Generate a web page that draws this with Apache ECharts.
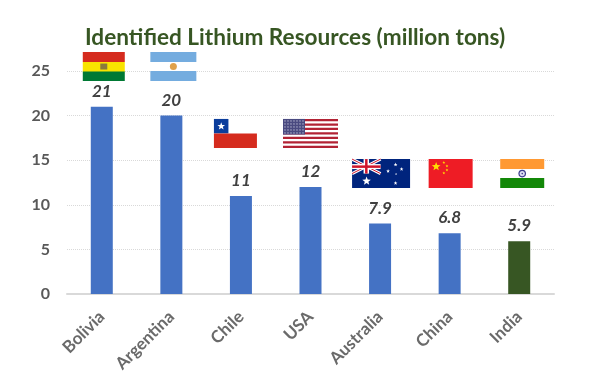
<!DOCTYPE html>
<html>
<head>
<meta charset="utf-8">
<script src="https://cdn.jsdelivr.net/npm/echarts@6/dist/echarts.min.js"></script>
<style>
html, body { margin: 0; padding: 0; background: #fff; }
#main { width: 590px; height: 388px; }
</style>
</head>
<body>
<div id="main"></div>
<script>
var countries = ['Bolivia', 'Argentina', 'Chile', 'USA', 'Australia', 'China', 'India'];
var resources = [21, 20, 11, 12, 7.9, 6.8, 5.9];
var flagLevels = [25.5, 25.5, 18, 18, 13.5, 13.5, 13.5];
var yTicks = [0, 5, 10, 15, 20, 25];

function rect(x, y, w, h, color) {
    return { type: 'rect', shape: { x: x, y: y, width: w, height: h }, style: { fill: color } };
}
function circle(cx, cy, r, color) {
    return { type: 'circle', shape: { cx: cx, cy: cy, r: r }, style: { fill: color } };
}
function star(cx, cy, r, color) {
    var pts = [];
    for (var i = 0; i < 10; i++) {
        var a = -Math.PI / 2 + i * Math.PI / 5;
        var d = i % 2 ? r * 0.42 : r;
        pts.push([cx + d * Math.cos(a), cy + d * Math.sin(a)]);
    }
    return { type: 'polygon', shape: { points: pts }, style: { fill: color } };
}
function line(x1, y1, x2, y2, color, w) {
    return { type: 'line', shape: { x1: x1, y1: y1, x2: x2, y2: y2 }, style: { stroke: color, lineWidth: w } };
}

// 每个国旗以中心为原点画，高度29；dx是相对柱子中心的偏移
var flags = {
    Bolivia: { dx: 2, draw: function() {
        return [
            rect(-21, -14.5, 42, 10, '#d52b1e'),
            rect(-21, -4.5, 42, 10, '#f9e300'),
            rect(-21, 5, 42, 9.5, '#007934'),
            rect(-3.5, -3, 7, 6, '#8a7a3c')
        ];
    } },
    Argentina: { dx: 2, draw: function() {
        return [
            rect(-23, -14.5, 46, 10, '#74acdf'),
            rect(-23, -4.5, 46, 10, '#ffffff'),
            rect(-23, 4.5, 46, 10, '#74acdf'),
            circle(0, 0, 3.5, '#e0a14a')
        ];
    } },
    Chile: { dx: -5.5, draw: function() {
        return [
            rect(-21.5, -14.5, 43, 14.5, '#ffffff'),
            rect(-21.5, -14.5, 14.5, 14.5, '#0b3d9c'),
            rect(-21.5, 0, 43, 14.5, '#d52b1e'),
            star(-14.2, -7.2, 4, '#ffffff')
        ];
    } },
    USA: { dx: 0, draw: function() {
        var items = [rect(-27.5, -14.5, 55, 29, '#ffffff')];
        for (var i = 0; i < 7; i++) {
            items.push(rect(-27.5, -14.5 + i * 4.46, 55, 2.23, '#b22234'));
        }
        items.push(rect(-27.5, -14.5, 22, 15.6, '#4a4a80'));
        for (var r = 0; r < 5; r++) {
            for (var c = 0; c < 7; c++) {
                items.push(circle(-25.5 + c * 3, -12.5 + r * 3, 0.6, '#d8d8e8'));
            }
        }
        return items;
    } },
    Australia: { dx: 1, draw: function() {
        return [
            rect(-29, -14.5, 58, 29, '#00247d'),
            line(-29, -14.5, -0.5, 0, '#ffffff', 3),
            line(-0.5, -14.5, -29, 0, '#ffffff', 3),
            line(-29, -14.5, -0.5, 0, '#cf142b', 1),
            line(-0.5, -14.5, -29, 0, '#cf142b', 1),
            rect(-29, -9.5, 28.5, 5, '#ffffff'),
            rect(-17.5, -14.5, 5.5, 14.5, '#ffffff'),
            rect(-29, -8.2, 28.5, 2.5, '#cf142b'),
            rect(-16, -14.5, 2.5, 14.5, '#cf142b'),
            star(-14.5, 7.5, 4.5, '#ffffff'),
            star(14.5, -9, 2, '#ffffff'),
            star(7, -2.5, 2, '#ffffff'),
            star(20.5, -4.5, 2, '#ffffff'),
            star(15, 0.5, 1.2, '#ffffff'),
            star(14.5, 9.5, 2, '#ffffff')
        ];
    } },
    China: { dx: 1, draw: function() {
        return [
            rect(-22, -14.5, 44, 29, '#ee1c25'),
            star(-14.5, -7, 4.6, '#ffde00'),
            star(-6.8, -11, 1.5, '#ffde00'),
            star(-3.7, -7.5, 1.5, '#ffde00'),
            star(-3.7, -3.5, 1.5, '#ffde00'),
            star(-6.8, -0.5, 1.5, '#ffde00')
        ];
    } },
    India: { dx: 3, draw: function() {
        return [
            rect(-22, -14.5, 44, 10, '#ff9933'),
            rect(-22, -4.5, 44, 10, '#ffffff'),
            rect(-22, 4.5, 44, 10, '#138808'),
            circle(0, 0, 3.8, '#3a3a8c'),
            circle(0, 0, 2.6, '#dcdcf0'),
            circle(0, 0, 0.8, '#3a3a8c')
        ];
    } }
};

var myChart = echarts.init(document.getElementById('main'));

var option = {
    animation: false,
    backgroundColor: '#ffffff',
    title: {
        text: 'Identified Lithium Resources (million tons)',
        left: 85,
        top: 26,
        padding: 0,
        textStyle: { fontFamily: 'Lato', fontSize: 22.6, fontWeight: 'bold', color: '#375623' }
    },
    grid: { left: 67, right: 36, top: 71, bottom: 94 },
    xAxis: {
        type: 'category',
        data: countries,
        axisLine: { lineStyle: { color: '#d9d9d9', width: 2 } },
        axisTick: { show: false },
        axisLabel: {
            rotate: 45,
            margin: 20,
            interval: 0,
            fontFamily: 'Lato',
            fontSize: 17,
            fontWeight: 'bold',
            color: '#6a6a6a'
        }
    },
    yAxis: {
        type: 'value',
        min: yTicks[0],
        max: yTicks[yTicks.length - 1],
        interval: 5,
        axisLine: { show: false },
        axisTick: { show: false },
        splitLine: { lineStyle: { color: '#d9d9d9', type: 'dotted', width: 1 } },
        axisLabel: {
            margin: 17,
            fontFamily: 'Lato',
            fontSize: 16,
            fontWeight: 'bold',
            color: '#595959'
        }
    },
    series: [
        {
            type: 'bar',
            barWidth: 22,
            data: resources.map(function(v, i) {
                return { value: v, itemStyle: { color: countries[i] === 'India' ? '#375623' : '#4472c4' } };
            }),
            label: {
                show: true,
                position: 'top',
                distance: 7,
                fontFamily: 'Lato',
                fontSize: 17,
                fontWeight: 'bold',
                fontStyle: 'italic',
                color: '#404040'
            }
        },
        {
            type: 'custom',
            clip: false,
            silent: true,
            encode: { x: 0, y: 1 },
            data: flagLevels.map(function(v, i) { return [i, v]; }),
            renderItem: function(params, api) {
                var pos = api.coord([api.value(0), api.value(1)]);
                var flag = flags[countries[params.dataIndex]];
                return {
                    type: 'group',
                    x: pos[0] + flag.dx,
                    y: pos[1],
                    children: flag.draw()
                };
            }
        }
    ]
};

myChart.setOption(option);
</script>
</body>
</html>
